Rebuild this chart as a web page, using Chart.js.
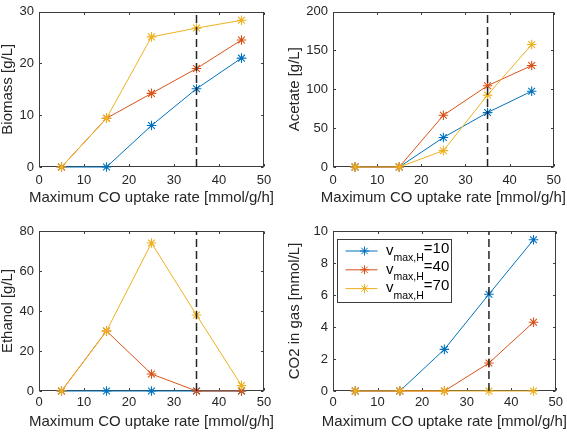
<!DOCTYPE html>
<html><head><meta charset="utf-8">
<script src="https://cdn.jsdelivr.net/npm/chart.js@4.4.1/dist/chart.umd.min.js"></script>
<style>
html,body{margin:0;padding:0;background:#fff;}
#wrap{position:relative;width:567px;height:432px;overflow:hidden;background:#fff;}
canvas{position:absolute;}
</style></head><body>
<div id="wrap">
<canvas id="c1" width="283" height="216" style="left:0;top:0"></canvas>
<canvas id="c2" width="284" height="216" style="left:283px;top:0"></canvas>
<canvas id="c3" width="283" height="216" style="left:0;top:216px"></canvas>
<canvas id="c4" width="284" height="216" style="left:283px;top:216px"></canvas>
</div>
<script>
// ---- data ----
const xValues = [5, 15, 25, 35, 45];
const xTicks = [0, 10, 20, 30, 40, 50];
const seriesLabels = ['10', '40', '70'];
const dashX = 35;
const xTitle = 'Maximum CO uptake rate [mmol/g/h]';

const biomassBlue   = [0, 0, 8.0, 15.1, 21.0];
const biomassRed    = [0, 9.4, 14.2, 19.0, 24.5];
const biomassYellow = [0, 9.4, 25.1, 26.8, 28.3];
const biomassTicks  = [0, 10, 20, 30];

const acetateBlue   = [0, 0, 38, 70, 97.5];
const acetateRed    = [0, 0, 66.5, 104.5, 130.5];
const acetateYellow = [0, 0, 21, 92.5, 157.5];
const acetateTicks  = [0, 50, 100, 150, 200];

const ethanolBlue   = [0, 0, 0, 0, 0];
const ethanolRed    = [0, 30, 8.5, 0, 0];
const ethanolYellow = [0, 30, 74, 38, 2.7];
const ethanolTicks  = [0, 20, 40, 60, 80];

const co2Blue   = [0, 0, 2.6, 6.05, 9.45];
const co2Red    = [0, 0, 0, 1.75, 4.3];
const co2Yellow = [0, 0, 0, 0, 0];
const co2Ticks  = [0, 2, 4, 6, 8, 10];

// ---- styling ----
const FONT = "'Liberation Sans', Arial, Helvetica, sans-serif";
const TXT = '#262626';
const FRAME = '#3c3c3c';
const colors = ['#0072BD', '#D95319', '#EDB120'];

const framePlugin = {
  id: 'frame',
  beforeDatasetsDraw(chart) {
    const {ctx, chartArea: a, scales: {x, y}} = chart;
    const L = Math.round(a.left) + 0.5, T = Math.round(a.top) + 0.5;
    const R = Math.round(a.right) - 0.5, B = Math.round(a.bottom) - 0.5;
    ctx.save();
    ctx.strokeStyle = FRAME; ctx.lineWidth = 1;
    ctx.strokeRect(L, T, R - L, B - T);
    const tl = 2.5;
    ctx.beginPath();
    x.ticks.forEach(t => {
      const p = Math.round(x.getPixelForValue(t.value)) + 0.5;
      ctx.moveTo(p, B); ctx.lineTo(p, B - tl);
      ctx.moveTo(p, T); ctx.lineTo(p, T + tl);
    });
    y.ticks.forEach(t => {
      const p = Math.round(y.getPixelForValue(t.value)) + 0.5;
      ctx.moveTo(L, p); ctx.lineTo(L + tl, p);
      ctx.moveTo(R, p); ctx.lineTo(R - tl, p);
    });
    ctx.stroke();
    ctx.restore();
  },
  afterDraw(chart, args, opts) {
    const {ctx, chartArea: a} = chart;
    ctx.save();
    ctx.fillStyle = TXT;
    ctx.font = '15px ' + FONT;
    ctx.textAlign = 'center'; ctx.textBaseline = 'middle';
    ctx.fillText(xTitle, (a.left + a.right) / 2, a.bottom + opts.titleOffset);
    ctx.restore();
  }
};

function drawStar(ctx, cx, cy, r) {
  ctx.beginPath();
  ctx.moveTo(cx - r, cy); ctx.lineTo(cx + r, cy);
  ctx.moveTo(cx, cy - r); ctx.lineTo(cx, cy + r);
  const d = r * Math.SQRT1_2;
  ctx.moveTo(cx - d, cy - d); ctx.lineTo(cx + d, cy + d);
  ctx.moveTo(cx - d, cy + d); ctx.lineTo(cx + d, cy - d);
  ctx.stroke();
}

const legendPlugin = {
  id: 'mlegend',
  afterDraw(chart) {
    const {ctx, chartArea: a} = chart;
    const bx = Math.round(a.left) + 4.5, by = Math.round(a.top) + 8.5;
    const bw = 114, bh = 63;
    ctx.save();
    ctx.fillStyle = '#fff';
    ctx.fillRect(bx, by, bw, bh);
    ctx.strokeStyle = FRAME; ctx.lineWidth = 1;
    ctx.strokeRect(bx, by, bw, bh);
    seriesLabels.forEach((lab, i) => {
      const cy = by + 11.5 + i * 18.8;
      ctx.strokeStyle = colors[i]; ctx.lineWidth = 1;
      ctx.beginPath(); ctx.moveTo(bx + 8, cy); ctx.lineTo(bx + 40, cy); ctx.stroke();
      drawStar(ctx, bx + 27, cy, 4.5);
      ctx.fillStyle = '#000';
      ctx.textBaseline = 'alphabetic'; ctx.textAlign = 'left';
      let tx = bx + 48.5;
      ctx.font = '15px ' + FONT;
      ctx.fillText('v', tx, cy + 3.8);
      tx += ctx.measureText('v').width;
      ctx.font = '10.5px ' + FONT;
      ctx.fillText('max,H', tx, cy + 10.3);
      tx += ctx.measureText('max,H').width;
      ctx.font = '15px ' + FONT;
      ctx.fillText('=' + lab, tx, cy + 1.5);
    });
    ctx.restore();
  }
};

function makeChart(id, yTitle, yTicks, series, o) {
  const yMin = yTicks[0], yMax = yTicks[yTicks.length - 1];
  const datasets = series.map((arr, i) => ({
    data: xValues.map((xv, j) => ({x: xv, y: arr[j]})),
    borderColor: colors[i], backgroundColor: colors[i],
    borderWidth: 1, pointStyle: 'star', pointRadius: 4.8, pointHoverRadius: 4.8,
    pointBorderWidth: 1.1, order: 3 - i, clip: false, tension: 0, fill: false
  }));
  datasets.push({
    data: [{x: dashX, y: yMin}, {x: dashX, y: yMax}],
    borderColor: '#262626', borderWidth: 1.5, borderDash: [8, 4],
    pointRadius: 0, pointHoverRadius: 0, order: 0, clip: false, fill: false
  });
  const plugins = [framePlugin];
  if (o.legend) plugins.push(legendPlugin);
  return new Chart(document.getElementById(id), {
    type: 'line',
    data: {datasets},
    plugins,
    options: {
      responsive: false, animation: false, devicePixelRatio: 1,
      layout: {padding: {left: 0, right: o.padRight, top: o.padTop, bottom: 0}},
      plugins: {legend: {display: false}, tooltip: {enabled: false}, frame: {titleOffset: o.xTitleOff}},
      events: [],
      scales: {
        x: {
          type: 'linear', min: 0, max: 50,
          afterBuildTicks: s => { s.ticks = xTicks.map(v => ({value: v})); },
          ticks: {padding: o.xTickPad, color: TXT, font: {family: FONT, size: 13, lineHeight: 1.2}},
          grid: {display: false, drawTicks: false}, border: {display: false},
          title: {display: false},
          afterFit: s => { s.height = o.xAxisH; }
        },
        y: {
          type: 'linear', min: yMin, max: yMax,
          afterBuildTicks: s => { s.ticks = yTicks.map(v => ({value: v})); },
          ticks: {padding: 5, color: TXT, font: {family: FONT, size: 13, lineHeight: 1.0}},
          grid: {display: false, drawTicks: false}, border: {display: false},
          title: {display: true, text: yTitle, color: TXT,
            font: {family: FONT, size: 15, lineHeight: 1.1}, padding: {top: o.yTitlePad, bottom: 0}},
          afterFit: s => { s.width = o.yAxisW; }
        }
      }
    }
  });
}

makeChart('c1', 'Biomass [g/L]', biomassTicks, [biomassBlue, biomassRed, biomassYellow],
  {padRight: 19, padTop: 7, yAxisW: 39, xAxisH: 49, xTickPad: 6, xTitleOff: 31, yTitlePad: 0});
makeChart('c2', 'Acetate [g/L]', acetateTicks, [acetateBlue, acetateRed, acetateYellow],
  {padRight: 10, padTop: 7, yAxisW: 50, xAxisH: 49, xTickPad: 6, xTitleOff: 31, yTitlePad: 4});
makeChart('c3', 'Ethanol [g/L]', ethanolTicks, [ethanolBlue, ethanolRed, ethanolYellow],
  {padRight: 19, padTop: 15, yAxisW: 39, xAxisH: 41, xTickPad: 4, xTitleOff: 30.5, yTitlePad: 0});
makeChart('c4', 'CO2 in gas [mmol/L]', co2Ticks, [co2Blue, co2Red, co2Yellow],
  {padRight: 10, padTop: 15, yAxisW: 50, xAxisH: 41, xTickPad: 4, xTitleOff: 30.5, yTitlePad: 4, legend: true});
</script>
</body></html>
